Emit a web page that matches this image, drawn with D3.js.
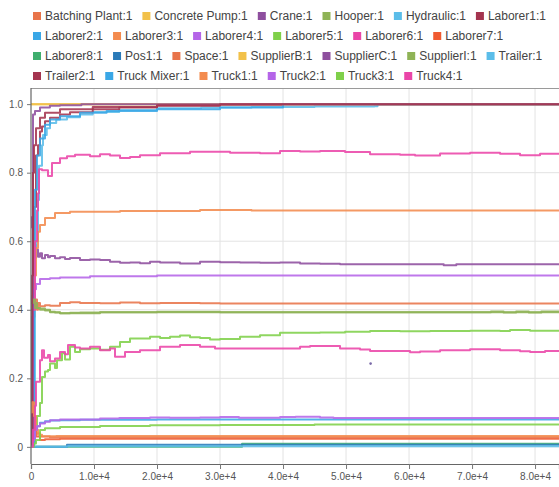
<!DOCTYPE html>
<html>
<head>
<meta charset="utf-8">
<script src="https://cdn.jsdelivr.net/npm/d3@7"></script>
<style>
  html, body { margin: 0; padding: 0; background: #fff; }
  svg { display: block; font-family: "Liberation Sans", Arial, sans-serif; }
</style>
</head>
<body>
<svg id="chart" width="559" height="487"></svg>
<script>
// Resource names, in legend order
const seriesNames = [
  "Batching Plant:1", "Concrete Pump:1", "Crane:1", "Hooper:1", "Hydraulic:1",
  "Laborer1:1", "Laborer2:1", "Laborer3:1", "Laborer4:1", "Laborer5:1",
  "Laborer6:1", "Laborer7:1", "Laborer8:1", "Pos1:1", "Space:1",
  "SupplierB:1", "SupplierC:1", "SupplierI:1", "Trailer:1", "Trailer2:1",
  "Truck Mixer:1", "Truck1:1", "Truck2:1", "Truck3:1", "Truck4:1"
];

// Colour cycle applied to the series in order
const palette = [
  "#e8744a", "#f2c14a", "#8e4f9e", "#8fb356", "#5bbde9", "#a4344f", "#3aa7e6",
  "#f38b4e", "#b565e8", "#7fd04a", "#ea45a8", "#f05a30", "#3fae6e", "#2a7ab8"
];

const xTicks = [0, 10000, 20000, 30000, 40000, 50000, 60000, 70000, 80000];
const yTicks = [0, 0.2, 0.4, 0.6, 0.8, 1.0];

// Utilisation samples per resource: [simulation time, utilisation]
const batchingPlant = [[0,0.42],[160,0.43],[317,0.40],[476,0.38],[635,0.41],[794,0.43],[952,0.40],[1111,0.42],[1428,0.41],[2222,0.413],[3016,0.412],[4603,0.42],[6190,0.422],[7778,0.42],[10952,0.419],[14127,0.421],[17302,0.419],[20476,0.42],[26825,0.419],[30000,0.418],[83800,0.418]];
const concretePump = [[0,1.0],[83800,1.0]];
const crane = [[0,0.67],[160,0.64],[317,0.60],[476,0.57],[635,0.59],[794,0.56],[952,0.575],[1111,0.555],[1428,0.565],[1746,0.55],[2222,0.56],[2698,0.553],[3016,0.557],[3809,0.55],[4603,0.553],[5397,0.548],[6190,0.551],[7778,0.545],[9365,0.547],[10952,0.545],[12540,0.54],[14127,0.537],[15714,0.538],[17302,0.536],[18889,0.54],[20476,0.538],[23651,0.535],[26825,0.54],[30000,0.539],[33175,0.538],[36349,0.537],[39524,0.538],[42698,0.535],[45873,0.534],[49048,0.533],[64000,0.533],[65500,0.530],[67500,0.533],[83800,0.533]];
const hooper = [[0,0.43],[160,0.44],[317,0.41],[476,0.43],[635,0.41],[794,0.42],[952,0.405],[1428,0.404],[2222,0.398],[3016,0.394],[3809,0.392],[4603,0.39],[6190,0.391],[7778,0.392],[10952,0.393],[20000,0.394],[30000,0.393],[83800,0.393]];
const hydraulic = [[0,0],[476,0.1],[635,0.55],[794,0.6],[1111,0.72],[1270,0.82],[1746,0.88],[1905,0.91],[2500,0.93],[3016,0.945],[4000,0.955],[5714,0.962],[7778,0.97],[9800,0.977],[14000,0.983],[20000,0.988],[27000,0.99],[35000,0.992],[45000,0.993],[54500,0.994],[55000,1.0],[83800,1.0]];
const laborer1 = [[0,0],[160,0.3],[317,0.55],[476,0.7],[794,0.85],[1111,0.88],[1428,0.92],[1746,0.935],[2222,0.95],[3016,0.96],[4603,0.97],[6190,0.976],[9800,0.985],[14000,0.99],[20000,0.995],[30000,0.998],[40000,1.0],[83800,1.0]];
const laborer2 = [[0,0],[476,0.5],[635,0.75],[952,0.85],[1428,0.9],[2222,0.94],[3016,0.955],[4603,0.965],[7778,0.975],[12000,0.98],[20000,0.985],[30000,0.99],[40000,1.0],[83800,1.0]];
const laborer3 = [[0,0.4],[476,0.5],[794,0.58],[1111,0.628],[1428,0.647],[2222,0.668],[3809,0.682],[6190,0.686],[9365,0.686],[14127,0.688],[20476,0.688],[26825,0.691],[35000,0.69],[83800,0.69]];
const laborer4 = [[0,0],[160,0.38],[317,0.44],[476,0.46],[794,0.475],[1428,0.49],[3016,0.492],[4603,0.494],[9365,0.498],[20000,0.5],[83800,0.5]];
const laborer5 = [[0,0],[317,0.02],[635,0.05],[952,0.09],[1428,0.128],[1746,0.204],[2222,0.22],[2698,0.224],[3016,0.243],[3809,0.23],[4127,0.253],[4920,0.273],[5397,0.255],[6190,0.292],[6984,0.277],[7778,0.285],[9365,0.287],[10952,0.283],[12540,0.292],[14127,0.306],[15714,0.316],[17302,0.316],[18889,0.321],[20476,0.318],[22063,0.321],[23651,0.325],[25238,0.32],[26825,0.318],[28413,0.313],[30000,0.315],[33175,0.321],[36349,0.326],[39524,0.333],[42698,0.333],[45873,0.334],[49841,0.336],[53810,0.338],[58571,0.337],[63333,0.338],[69683,0.339],[74444,0.338],[76032,0.341],[79206,0.339],[83800,0.338]];
const laborer6 = [[0,0.1],[317,0.4],[635,0.6],[952,0.69],[1111,0.74],[1270,0.81],[1746,0.807],[2698,0.79],[3016,0.79],[3333,0.828],[4603,0.842],[5714,0.848],[6984,0.852],[9365,0.848],[10952,0.854],[12540,0.85],[14127,0.843],[15714,0.846],[17302,0.851],[20476,0.857],[25238,0.861],[26825,0.861],[31587,0.858],[36349,0.857],[39524,0.863],[42698,0.862],[45873,0.863],[49841,0.86],[53810,0.854],[58571,0.852],[60952,0.85],[64921,0.856],[69683,0.858],[74444,0.855],[77619,0.851],[80794,0.855],[83800,0.852]];
const laborer7 = [[0,0],[317,0.08],[476,0.05],[794,0.03],[1428,0.02],[2222,0.022],[4603,0.024],[10000,0.024],[83800,0.024]];
const laborer8 = [[0,0],[33500,0],[33500,0.009],[83800,0.009]];
const pos1 = [[0,0],[5714,0],[5714,0.006],[83800,0.006]];
const space = [[0,0.13],[317,0.1],[476,0.06],[794,0.04],[1428,0.03],[3000,0.028],[83800,0.028]];
const supplierB = [[0,1.0],[83800,1.0]];
const supplierC = [[0,0],[317,0.97],[635,0.98],[1428,0.99],[3000,0.995],[4603,0.997],[8000,1.0],[83800,1.0]];
const supplierI = [[0,0.42],[317,0.43],[635,0.405],[1428,0.40],[3016,0.393],[4603,0.39],[10952,0.393],[30000,0.393],[72000,0.393],[73000,0.395],[75000,0.392],[77000,0.395],[79000,0.392],[81000,0.395],[83800,0.393]];
const trailer = [[0,0],[5714,0],[5714,0.002],[83800,0.002]];
const trailer2 = [[0,0],[160,0.5],[317,0.8],[476,0.88],[794,0.93],[1428,0.96],[2222,0.975],[4603,0.985],[9800,0.992],[20000,0.997],[30000,1.0],[83800,1.0]];
const truckMixer = [[0,0],[476,0.01],[635,0.05],[952,0.06],[1428,0.07],[2222,0.075],[3016,0.077],[4603,0.078],[7778,0.079],[14000,0.079],[20000,0.08],[83800,0.08]];
const truck1 = [[0,0.1],[160,0.13],[476,0.09],[794,0.05],[1111,0.035],[1746,0.031],[4000,0.032],[83800,0.032]];
const truck2 = [[0,0],[317,0.02],[635,0.05],[952,0.06],[1428,0.068],[2222,0.073],[3016,0.078],[4603,0.08],[7778,0.08],[10952,0.083],[14000,0.084],[18889,0.086],[22000,0.085],[26825,0.086],[30000,0.087],[33000,0.085],[36000,0.085],[39524,0.087],[42000,0.088],[45873,0.086],[48000,0.084],[83800,0.084]];
const truck3 = [[0,0],[476,0.01],[794,0.02],[1428,0.049],[2222,0.054],[4603,0.058],[10952,0.061],[18889,0.063],[30000,0.064],[45000,0.065],[83800,0.065]];
const truck4 = [[0,0],[317,0.05],[635,0.12],[794,0.19],[1111,0.19],[1428,0.253],[1746,0.282],[2063,0.26],[2698,0.268],[3016,0.25],[3809,0.258],[4603,0.277],[5397,0.27],[5873,0.297],[6984,0.29],[7778,0.287],[9365,0.292],[10952,0.282],[12540,0.287],[13333,0.263],[14920,0.277],[17302,0.282],[20476,0.292],[23651,0.297],[26825,0.292],[29206,0.287],[33175,0.287],[36349,0.287],[42698,0.292],[44286,0.294],[49048,0.287],[52222,0.284],[53810,0.28],[58571,0.28],[60159,0.276],[61746,0.278],[64921,0.282],[69683,0.285],[74444,0.282],[77619,0.279],[79206,0.277],[81587,0.28],[83800,0.279]];
// A lone sample recorded away from any run
const loneSamples = [[53900, 0.243]];

const seriesData = [
  batchingPlant, concretePump, crane, hooper, hydraulic,
  laborer1, laborer2, laborer3, laborer4, laborer5,
  laborer6, laborer7, laborer8, pos1, space,
  supplierB, supplierC, supplierI, trailer, trailer2,
  truckMixer, truck1, truck2, truck3, truck4
];

const plot = { left: 31, top: 88, right: 559, bottom: 464 };

const svg = d3.select("#chart");
const colorOf = i => palette[i % palette.length];

const x = d3.scaleLinear().domain([0, 83800]).range([plot.left, plot.right]);
const y = d3.scaleLinear().domain([-0.05, 1.05]).range([plot.bottom, 87]);

// Grid
const grid = svg.append("g");
grid.selectAll("line.v").data(xTicks.slice(1)).join("line")
  .attr("x1", d => x(d)).attr("x2", d => x(d))
  .attr("y1", plot.top).attr("y2", plot.bottom)
  .attr("stroke", "#e3e3e3").attr("stroke-width", 1);
grid.selectAll("line.h").data(yTicks).join("line")
  .attr("x1", plot.left).attr("x2", plot.right)
  .attr("y1", d => y(d)).attr("y2", d => y(d))
  .attr("stroke", "#e3e3e3").attr("stroke-width", 1);

// Frame
svg.append("line").attr("x1", plot.left).attr("x2", plot.right + 5)
  .attr("y1", plot.top + 0.5).attr("y2", plot.top + 0.5)
  .attr("stroke", "#9a9a9a").attr("stroke-width", 1.2);

// Series
svg.append("clipPath").attr("id", "plotClip").append("rect")
  .attr("x", plot.left).attr("y", plot.top)
  .attr("width", plot.right - plot.left).attr("height", plot.bottom - plot.top);

const line = d3.line().x(d => x(d[0])).y(d => y(d[1])).curve(d3.curveStepAfter);
const lines = svg.append("g").attr("clip-path", "url(#plotClip)");
lines.selectAll("path").data(seriesData).join("path")
  .attr("d", d => line(d))
  .attr("fill", "none")
  .attr("stroke", (d, i) => colorOf(i))
  .attr("stroke-width", 2)
  .attr("stroke-opacity", 0.88)
  .attr("stroke-linejoin", "round");

lines.selectAll("circle").data(loneSamples).join("circle")
  .attr("cx", d => x(d[0])).attr("cy", d => y(d[1])).attr("r", 1.3)
  .attr("fill", "#7a6aa8");

// Axes
const xAxis = d3.axisBottom(x).tickValues(xTicks).tickSize(5).tickPadding(4)
  .tickFormat(d => d === 0 ? "0" : d3.format(".1e")(d));
const yAxis = d3.axisLeft(y).tickValues(yTicks).tickSize(4).tickPadding(4)
  .tickFormat(d => d === 0 ? "0" : d3.format(".1f")(d));

const gx = svg.append("g").attr("transform", `translate(0,${plot.bottom})`).call(xAxis);
const gy = svg.append("g").attr("transform", `translate(${plot.left},0)`).call(yAxis);
[gx, gy].forEach(g => {
  g.select(".domain").attr("stroke", "#666").attr("stroke-width", 1.2);
  g.selectAll(".tick line").attr("stroke", "#777");
  g.selectAll(".tick text").attr("fill", "#555").attr("font-size", 10)
    .attr("font-family", "\"Liberation Sans\", Arial, sans-serif");
});
gy.select(".domain").attr("d", `M0,${plot.top}V${plot.bottom}`);

// Legend (left-aligned, wrapping rows)
const legend = svg.append("g").attr("font-size", 12).attr("fill", "#444");
const sq = 8, sqGap = 4, itemGap = 10, rowH = 20, rowY0 = 16, legendLeft = 33, legendRight = 556;
let lx = legendLeft, row = 0;
seriesNames.forEach((name, i) => {
  const g = legend.append("g");
  const t = g.append("text").text(name).attr("dy", "0.35em");
  const w = t.node().getComputedTextLength();
  if (lx + sq + sqGap + w > legendRight) { row += 1; lx = legendLeft; }
  const cy = rowY0 + row * rowH;
  g.append("rect").attr("x", lx).attr("y", cy - sq / 2).attr("width", sq).attr("height", sq)
    .attr("fill", colorOf(i));
  t.attr("x", lx + sq + sqGap).attr("y", cy);
  lx += sq + sqGap + w + itemGap;
});
</script>
</body>
</html>
